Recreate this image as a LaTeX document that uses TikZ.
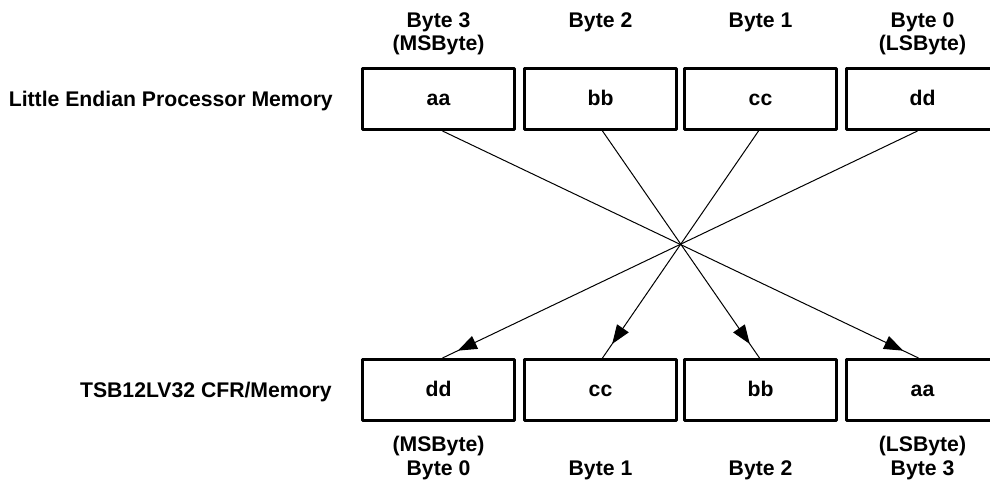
\documentclass[tikz,border=0pt]{standalone}
\usepackage{fontspec}
\setmainfont{Liberation Sans}
\usetikzlibrary{arrows.meta,decorations.markings}
\begin{document}
\begin{tikzpicture}[x=1pt,y=-1pt,
  every node/.style={font=\fontsize{21.2}{24}\selectfont\bfseries, inner sep=0pt},
  membox/.style={draw, line width=3pt, line join=round, minimum width=152pt, minimum height=61pt, text height=12pt, text depth=0pt},
  lbl/.style={anchor=base},
  side/.style={anchor=base east},
  conn/.style={line width=1pt, postaction={decorate},
    decoration={markings, mark=at position -17pt with {\arrow{Triangle[length=19pt,width=14pt]}}}}
]
\clip (0,0) rectangle (990,487);
\fill[white] (0,0) rectangle (990,487);
% top row
\node[membox] (ta) at (438.5,99) {aa};
\node[membox] (tb) at (600.5,99) {bb};
\node[membox] (tc) at (760.5,99) {cc};
\node[membox] (td) at (922.5,99) {dd};
% bottom row
\node[membox] (bd) at (438.5,390) {dd};
\node[membox] (bc) at (600.5,390) {cc};
\node[membox] (bb) at (760.5,390) {bb};
\node[membox] (ba) at (922.5,390) {aa};
% side labels
\node[side] (ltop) at (333,106.5) {Little Endian Processor Memory};
\node[side] (lbot) at (332,397.5) {TSB12LV32 CFR/Memory};
% top labels
\node[lbl] (t3a) at (438.5,27.5) {Byte 3};
\node[lbl] (t3b) at (438.5,51) {(MSByte)};
\node[lbl] (t2a) at (600.5,27.5) {Byte 2};
\node[lbl] (t1a) at (760.5,27.5) {Byte 1};
\node[lbl] (t0a) at (922.5,27.5) {Byte 0};
\node[lbl] (t0b) at (922.5,51) {(LSByte)};
% bottom labels
\node[lbl] (b0b) at (438.5,451) {(MSByte)};
\node[lbl] (b0a) at (438.5,475) {Byte 0};
\node[lbl] (b1a) at (600.5,475) {Byte 1};
\node[lbl] (b2a) at (760.5,475) {Byte 2};
\node[lbl] (b3b) at (922.5,451) {(LSByte)};
\node[lbl] (b3a) at (922.5,475) {Byte 3};
% connectors
\draw[conn] ([xshift=4pt]ta.south) -- ([xshift=-4pt]ba.north);
\draw[conn] ([xshift=2pt]tb.south) -- ([xshift=-1pt]bb.north);
\draw[conn] ([xshift=-2pt]tc.south) -- ([xshift=2pt]bc.north);
\draw[conn] ([xshift=-5pt]td.south) -- ([xshift=4pt]bd.north);
\end{tikzpicture}
\end{document}
